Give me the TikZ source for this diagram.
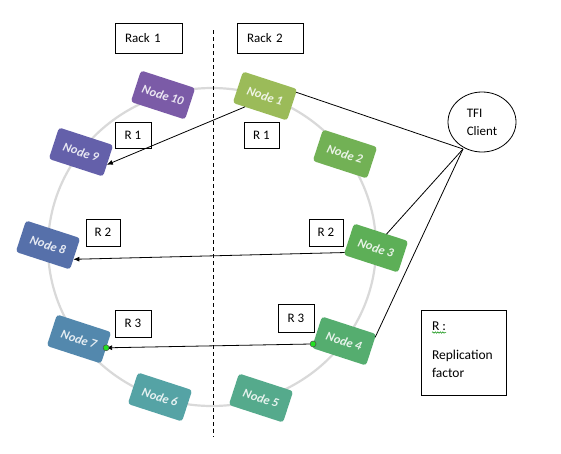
\documentclass[tikz,border=0pt]{standalone}
\usepackage{fontspec}
\setmainfont{Carlito}
\usetikzlibrary{shapes.geometric,arrows.meta,calc,decorations.pathmorphing}
\definecolor{c1}{HTML}{9BBB59}
\definecolor{c2}{HTML}{72B155}
\definecolor{c3}{HTML}{5DAF57}
\definecolor{c4}{HTML}{55AD6F}
\definecolor{c5}{HTML}{55AA8C}
\definecolor{c6}{HTML}{55A3A5}
\definecolor{c7}{HTML}{5388AD}
\definecolor{c8}{HTML}{5670AA}
\definecolor{c9}{HTML}{6460AA}
\definecolor{c10}{HTML}{7B5BA7}
\definecolor{ringgray}{HTML}{D9D9D9}
\definecolor{dotgreen}{HTML}{22E022}
\begin{document}
\begin{tikzpicture}[x=1pt,y=-1pt,
  ringline/.style={draw=ringgray,line width=2.2pt},
  ringnode/.style={rectangle,rounded corners=3pt,minimum width=57pt,minimum height=33pt,
    inner sep=0pt,outer sep=0pt,rotate=-18,text=white,text opacity=0.85,
    font=\fontsize{12.5}{13}\selectfont\bfseries\itshape},
  lbl/.style={draw=black,line width=0.8pt,rectangle,inner sep=0pt,outer sep=0pt,
    font=\fontsize{13}{14}\selectfont},
  plain/.style={inner sep=0pt,outer sep=0pt,font=\fontsize{13.5}{14}\selectfont},
  conn/.style={draw=black,line width=0.8pt},
  arr/.style={draw=black,line width=0.8pt,-{Latex[length=6pt,width=5pt]}},
  rackline/.style={draw=black,line width=0.8pt,dash pattern=on 4pt off 3pt},
  handle/.style={fill=dotgreen,draw=black!70,line width=0.5pt}
]
\useasboundingbox[fill=white] (0,0) rectangle (561,453);
% ring
\draw[ringline] (212,247) ellipse [x radius=164, y radius=159];
% rack divider
\draw[rackline] (213,30) -- (213,437);
% ring nodes
\node[ringnode,fill=c1]  (n1)  at (265,96)  {Node 1};
\node[ringnode,fill=c2]  (n2)  at (345,154) {Node 2};
\node[ringnode,fill=c3]  (n3)  at (376,248) {Node 3};
\node[ringnode,fill=c4]  (n4)  at (344,341) {Node 4};
\node[ringnode,fill=c5]  (n5)  at (261,398) {Node 5};
\node[ringnode,fill=c6]  (n6)  at (160,397) {Node 6};
\node[ringnode,fill=c7]  (n7)  at (79,339)  {Node 7};
\node[ringnode,fill=c8]  (n8)  at (48,245)  {Node 8};
\node[ringnode,fill=c9]  (n9)  at (81,152)  {Node 9};
\node[ringnode,fill=c10] (n10) at (163,95)  {Node 10};
% rack labels
\node[lbl,minimum width=67pt,minimum height=30pt,text width=47pt,align=left,inner xsep=10pt] (rack1) at (148.5,38) {Rack 1};
\node[lbl,minimum width=66pt,minimum height=30pt,text width=46pt,align=left,inner xsep=10pt] (rack2) at (270,38) {Rack 2};
% replica labels
\node[lbl,minimum width=36pt,minimum height=26pt] (r1a) at (133,135) {R 1};
\node[lbl,minimum width=35pt,minimum height=26pt] (r1b) at (261.5,135) {R 1};
\node[lbl,minimum width=34pt,minimum height=27pt] (r2a) at (103,232.5) {R 2};
\node[lbl,minimum width=34pt,minimum height=27pt] (r2b) at (326,232.5) {R 2};
\node[lbl,minimum width=36pt,minimum height=27pt] (r3a) at (133,323.5) {R 3};
\node[lbl,minimum width=36pt,minimum height=28pt] (r3b) at (296,318) {R 3};
% client
\node[draw=black,line width=0.8pt,ellipse,minimum width=68pt,minimum height=60pt,inner sep=0pt,
  align=left,font=\fontsize{13}{18}\selectfont] (tfi) at (482,122) {TFI\\Client};
\coordinate (tc) at (463,149);
% legend box
\node[lbl,minimum width=85pt,minimum height=85pt] (rbox) at (463.5,352.5) {};
\node[plain,anchor=base west] (rlbl) at (432,330) {R :};
\node[plain,anchor=base west] (rrep) at (432,359) {Replication};
\node[plain,anchor=base west] (rfac) at (432,377) {factor};
\draw[green!55!black,line width=0.5pt,decorate,decoration={snake,segment length=2.5pt,amplitude=0.7pt}]
  ($(rlbl.base west)+(0,2.5)$) -- ($(rlbl.base east)+(0,2.5)$);
% client connectors
\draw[conn] ($(n1.north east)!0.2!(n1.east)$) -- (tc);
\draw[conn] ($(n3.north)!0.2!(n3.north east)$) -- (tc);
\draw[conn] ($(n4.north east)!0.2!(n4.east)$) -- (tc);
% replication arrows
\draw[arr] ($(n1.south west)!0.45!(n1.south)$) -- ($(n9.east)!0.25!(n9.south east)$);
\draw[arr] ($(n3.west)!0.85!(n3.south west)$) -- ($(n8.east)!0.35!(n8.south east)$);
\coordinate (s3) at ($(n4.west)!0.75!(n4.south west)$);
\coordinate (e3) at (n7.east);
\draw[arr] (s3) -- (e3);
\filldraw[handle] (s3) circle (3pt);
\filldraw[handle] (e3) circle (3pt);
\end{tikzpicture}
\end{document}
